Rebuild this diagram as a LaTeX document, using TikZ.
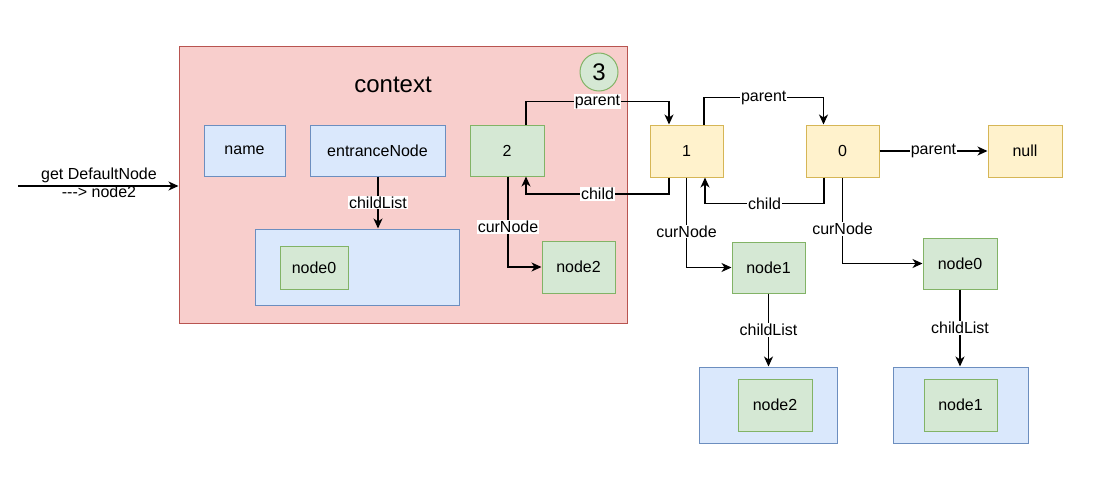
\documentclass[tikz,border=0pt]{standalone}
\usepackage{fontspec}
\setmainfont{Liberation Sans}
\usetikzlibrary{arrows.meta}
\definecolor{redF}{HTML}{F8CECC}\definecolor{redS}{HTML}{B85450}
\definecolor{bluF}{HTML}{DAE8FC}\definecolor{bluS}{HTML}{6C8EBF}
\definecolor{grnF}{HTML}{D5E8D4}\definecolor{grnS}{HTML}{82B366}
\definecolor{ylwF}{HTML}{FFF2CC}\definecolor{ylwS}{HTML}{D6B656}
\tikzset{
  base/.style={draw, line width=1pt, inner sep=0pt, font=\fontsize{16}{19}\selectfont},
  rbox/.style={base, fill=redF, draw=redS},
  bbox/.style={base, fill=bluF, draw=bluS},
  gbox/.style={base, fill=grnF, draw=grnS},
  ybox/.style={base, fill=ylwF, draw=ylwS},
  sz/.style 2 args={minimum width=#1pt, minimum height=#2pt},
  arr/.style={line width=1.3pt, -{Stealth[length=10pt,width=9pt,inset=3pt]}},
  lbl/.style={fill=white, inner sep=1pt, font=\fontsize{16}{19}\selectfont},
}
\begin{document}
\begin{tikzpicture}[x=1pt,y=-1pt]
\useasboundingbox (0,0) rectangle (1104,480);
% context
\node[rbox, sz={448}{277}] (ctx) at (403,184.5) {};
\node[font=\fontsize{24}{28}\selectfont] (ctxt) at (393,85) {context};
\node[gbox, circle, minimum size=38pt, font=\fontsize{24}{28}\selectfont] (three) at (599,72) {3};
\node[bbox, sz={81}{51}] (name) at (244.5,150.5) {name};
\node[bbox, sz={135}{51}] (ent) at (377.5,150.5) {entranceNode};
\node[bbox, sz={204}{76}] (list) at (357,267) {};
\node[gbox, sz={68}{43}] (ln0) at (314,267.5) {node0};
\node[gbox, sz={74}{51}] (n2) at (507,150.5) {2};
\node[gbox, sz={73}{52}] (cn2) at (578.5,267) {node2};
% chain
\node[ybox, sz={73}{52}] (n1) at (686.5,151) {1};
\node[ybox, sz={73}{52}] (n0) at (842.5,151) {0};
\node[ybox, sz={74}{52}] (null) at (1025,151) {null};
\node[gbox, sz={73}{51}] (cn1) at (768.5,267.5) {node1};
\node[gbox, sz={74}{51}] (cn0) at (960,263.5) {node0};
\node[bbox, sz={138}{76}] (lb1) at (768,405) {};
\node[gbox, sz={74}{52}] (lb1n) at (775,405) {node2};
\node[bbox, sz={135}{76}] (lb2) at (960.5,405) {};
\node[gbox, sz={73}{52}] (lb2n) at (960.5,405) {node1};
% input
\coordinate (in) at (18,186);
\draw[arr] (in) -- (in -| ctx.west);
\node[font=\fontsize{16}{19}\selectfont, align=center, inner sep=0pt] (inl) at (99,182.5) {get DefaultNode\\[-1pt]{-}{-}{-}> node2};
% edges
\draw[arr] ([xshift=0.5pt]ent.south) -- node[lbl]{childList} ([xshift=0.5pt]ent.south |- list.north);
\draw[arr] ([xshift=19pt]n2.north) -- ++(0,-23) -| node[lbl, pos=0.25]{parent} ([xshift=-17.5pt]n1.north);
\draw[arr] ([xshift=-17.5pt]n1.south) -- ++(0,16.5) -| node[lbl, pos=0.25]{child} ([xshift=19pt]n2.south);
\draw[arr] ([xshift=17.5pt]n1.north) -- ++(0,-27) -| node[lbl, pos=0.25]{parent} ([xshift=-19pt]n0.north);
\draw[arr] ([xshift=-18.5pt]n0.south) -- ++(0,26) -| node[lbl, pos=0.25]{child} ([xshift=18.5pt]n1.south);
\draw[arr] (n0.east) -- node[lbl]{parent} (null.west);
\draw[arr] ([xshift=1pt]n2.south) |- node[lbl, pos=0.28]{curNode} (cn2.west);
\draw[arr] (n1.south) |- node[lbl, pos=0.3]{curNode} (cn1.west);
\draw[arr] (n0.south) |- node[lbl, pos=0.3]{curNode} (cn0.west);
\draw[arr] (cn1.south) -- node[lbl]{childList} (cn1.south |- lb1.north);
\draw[arr] (cn0.south) -- node[lbl]{childList} (cn0.south |- lb2.north);
\end{tikzpicture}
\end{document}
